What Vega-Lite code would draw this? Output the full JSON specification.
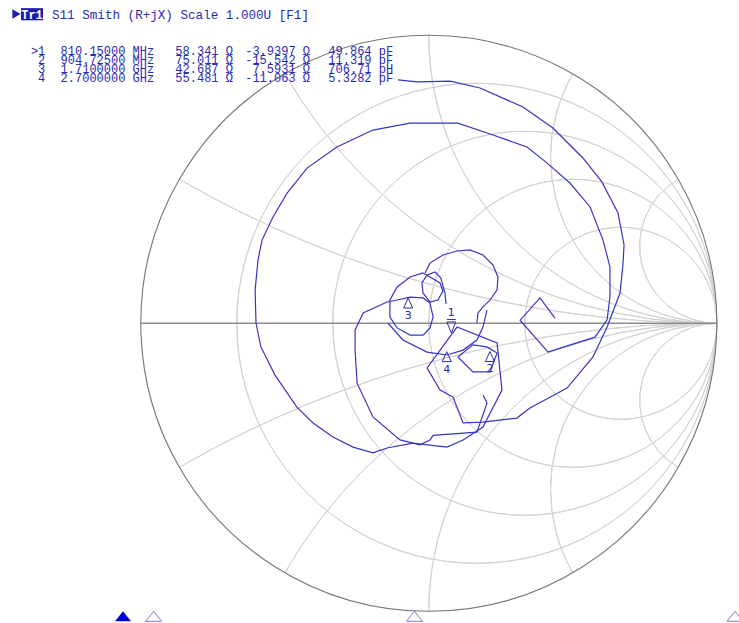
{
  "$schema": "https://vega.github.io/schema/vega-lite/v6.json",
  "width": 739,
  "height": 623,
  "autosize": {"type": "none"},
  "padding": 0,
  "background": "white",
  "config": {"view": {"stroke": null}},
  "datasets": {
    "grid": [
      {"kind": "r", "cx": 0.16667, "cy": 0, "rad": 0.83333, "t1": 0, "t2": 6.28318},
      {"kind": "r", "cx": 0.33333, "cy": 0, "rad": 0.66667, "t1": 0, "t2": 6.28318},
      {"kind": "r", "cx": 0.5, "cy": 0, "rad": 0.5, "t1": 0, "t2": 6.28318},
      {"kind": "r", "cx": 0.66667, "cy": 0, "rad": 0.33333, "t1": 0, "t2": 6.28318},
      {"kind": "r", "cx": 0.83333, "cy": 0, "rad": 0.16667, "t1": 0, "t2": 6.28318},
      {"kind": "x", "cx": 1, "cy": 0.26795, "rad": 0.26795, "t1": 3.14159, "t2": 5.75959},
      {"kind": "x", "cx": 1, "cy": 0.57735, "rad": 0.57735, "t1": 3.14159, "t2": 5.23599},
      {"kind": "x", "cx": 1, "cy": 1, "rad": 1, "t1": 3.14159, "t2": 4.71239},
      {"kind": "x", "cx": 1, "cy": 1.73205, "rad": 1.73205, "t1": 3.14159, "t2": 4.18879},
      {"kind": "x", "cx": 1, "cy": 3.73205, "rad": 3.73205, "t1": 3.14159, "t2": 3.66519},
      {"kind": "x", "cx": 1, "cy": -0.26795, "rad": 0.26795, "t1": -2.61799, "t2": 0},
      {"kind": "x", "cx": 1, "cy": -0.57735, "rad": 0.57735, "t1": -2.0944, "t2": 0},
      {"kind": "x", "cx": 1, "cy": -1, "rad": 1, "t1": -1.5708, "t2": 0},
      {"kind": "x", "cx": 1, "cy": -1.73205, "rad": 1.73205, "t1": -1.0472, "t2": 0},
      {"kind": "x", "cx": 1, "cy": -3.73205, "rad": 3.73205, "t1": -0.5236, "t2": 0},
      {"kind": "outer", "cx": 0, "cy": 0, "rad": 1, "t1": 0, "t2": 6.28318}
    ],
    "trace": [
      {"s": "A", "i": 0, "gx": -0.107, "gy": 0.845},
      {"s": "A", "i": 1, "gx": -0.041, "gy": 0.838},
      {"s": "A", "i": 2, "gx": 0.074, "gy": 0.841},
      {"s": "A", "i": 3, "gx": 0.178, "gy": 0.817},
      {"s": "A", "i": 4, "gx": 0.327, "gy": 0.751},
      {"s": "A", "i": 5, "gx": 0.431, "gy": 0.678},
      {"s": "A", "i": 6, "gx": 0.535, "gy": 0.574},
      {"s": "A", "i": 7, "gx": 0.601, "gy": 0.491},
      {"s": "A", "i": 8, "gx": 0.657, "gy": 0.383},
      {"s": "A", "i": 9, "gx": 0.678, "gy": 0.272},
      {"s": "A", "i": 10, "gx": 0.674, "gy": 0.202},
      {"s": "A", "i": 11, "gx": 0.664, "gy": 0.105},
      {"s": "A", "i": 12, "gx": 0.619, "gy": -0.013},
      {"s": "A", "i": 13, "gx": 0.57, "gy": -0.117},
      {"s": "A", "i": 14, "gx": 0.48, "gy": -0.225},
      {"s": "A", "i": 15, "gx": 0.403, "gy": -0.266},
      {"s": "A", "i": 16, "gx": 0.351, "gy": -0.294},
      {"s": "A", "i": 17, "gx": 0.306, "gy": -0.329},
      {"s": "A", "i": 18, "gx": 0.188, "gy": -0.343},
      {"s": "A", "i": 19, "gx": 0.119, "gy": -0.346},
      {"s": "A", "i": 20, "gx": 0.084, "gy": -0.256},
      {"s": "B", "i": 0, "gx": 0.438, "gy": 0.018},
      {"s": "B", "i": 1, "gx": 0.386, "gy": 0.088},
      {"s": "B", "i": 2, "gx": 0.317, "gy": 0.011},
      {"s": "B", "i": 3, "gx": 0.414, "gy": -0.1},
      {"s": "B", "i": 4, "gx": 0.456, "gy": -0.086},
      {"s": "B", "i": 5, "gx": 0.577, "gy": -0.048},
      {"s": "B", "i": 6, "gx": 0.619, "gy": 0.011},
      {"s": "B", "i": 7, "gx": 0.629, "gy": 0.091},
      {"s": "B", "i": 8, "gx": 0.629, "gy": 0.195},
      {"s": "B", "i": 9, "gx": 0.605, "gy": 0.289},
      {"s": "B", "i": 10, "gx": 0.56, "gy": 0.404},
      {"s": "B", "i": 11, "gx": 0.49, "gy": 0.487},
      {"s": "B", "i": 12, "gx": 0.41, "gy": 0.557},
      {"s": "B", "i": 13, "gx": 0.341, "gy": 0.612},
      {"s": "B", "i": 14, "gx": 0.223, "gy": 0.654},
      {"s": "B", "i": 15, "gx": 0.101, "gy": 0.695},
      {"s": "B", "i": 16, "gx": -0.065, "gy": 0.695},
      {"s": "B", "i": 17, "gx": -0.194, "gy": 0.671},
      {"s": "B", "i": 18, "gx": -0.319, "gy": 0.612},
      {"s": "B", "i": 19, "gx": -0.423, "gy": 0.539},
      {"s": "B", "i": 20, "gx": -0.492, "gy": 0.452},
      {"s": "B", "i": 21, "gx": -0.541, "gy": 0.369},
      {"s": "B", "i": 22, "gx": -0.579, "gy": 0.289},
      {"s": "B", "i": 23, "gx": -0.593, "gy": 0.22},
      {"s": "B", "i": 24, "gx": -0.603, "gy": 0.116},
      {"s": "B", "i": 25, "gx": -0.6, "gy": 0.001},
      {"s": "B", "i": 26, "gx": -0.583, "gy": -0.082},
      {"s": "B", "i": 27, "gx": -0.534, "gy": -0.18},
      {"s": "B", "i": 28, "gx": -0.458, "gy": -0.291},
      {"s": "B", "i": 29, "gx": -0.402, "gy": -0.346},
      {"s": "B", "i": 30, "gx": -0.333, "gy": -0.395},
      {"s": "B", "i": 31, "gx": -0.263, "gy": -0.43},
      {"s": "B", "i": 32, "gx": -0.194, "gy": -0.45},
      {"s": "B", "i": 33, "gx": -0.145, "gy": -0.433},
      {"s": "B", "i": 34, "gx": -0.055, "gy": -0.416},
      {"s": "B", "i": 35, "gx": 0.063, "gy": -0.43},
      {"s": "B", "i": 36, "gx": 0.119, "gy": -0.405},
      {"s": "B", "i": 37, "gx": 0.188, "gy": -0.36},
      {"s": "B", "i": 38, "gx": 0.254, "gy": -0.232},
      {"s": "B", "i": 39, "gx": 0.237, "gy": -0.068},
      {"s": "B", "i": 40, "gx": 0.098, "gy": -0.013},
      {"s": "B", "i": 41, "gx": -0.006, "gy": -0.155},
      {"s": "B", "i": 42, "gx": 0.039, "gy": -0.232},
      {"s": "B", "i": 43, "gx": 0.084, "gy": -0.256},
      {"s": "C1", "i": 0, "gx": -0.013, "gy": 0.175},
      {"s": "C1", "i": 1, "gx": 0.004, "gy": 0.209},
      {"s": "C1", "i": 2, "gx": 0.049, "gy": 0.237},
      {"s": "C1", "i": 3, "gx": 0.098, "gy": 0.251},
      {"s": "C1", "i": 4, "gx": 0.143, "gy": 0.255},
      {"s": "C1", "i": 5, "gx": 0.188, "gy": 0.237},
      {"s": "C1", "i": 6, "gx": 0.223, "gy": 0.202},
      {"s": "C1", "i": 7, "gx": 0.24, "gy": 0.161},
      {"s": "C1", "i": 8, "gx": 0.237, "gy": 0.116},
      {"s": "C1", "i": 9, "gx": 0.213, "gy": 0.081},
      {"s": "C1", "i": 10, "gx": 0.188, "gy": 0.057},
      {"s": "C1", "i": 11, "gx": 0.171, "gy": 0.036},
      {"s": "C1", "i": 12, "gx": 0.167, "gy": 0.001},
      {"s": "C2", "i": 0, "gx": -0.02, "gy": 0.175},
      {"s": "C2", "i": 1, "gx": 0.004, "gy": 0.161},
      {"s": "C2", "i": 2, "gx": 0.039, "gy": 0.14},
      {"s": "C2", "i": 3, "gx": 0.049, "gy": 0.112},
      {"s": "C2", "i": 4, "gx": 0.032, "gy": 0.081},
      {"s": "C2", "i": 5, "gx": 0.004, "gy": 0.074},
      {"s": "C2", "i": 6, "gx": -0.02, "gy": 0.105},
      {"s": "C2", "i": 7, "gx": -0.024, "gy": 0.14},
      {"s": "C2", "i": 8, "gx": -0.006, "gy": 0.168},
      {"s": "C2", "i": 9, "gx": 0.022, "gy": 0.178},
      {"s": "C2", "i": 10, "gx": 0.042, "gy": 0.157},
      {"s": "C2", "i": 11, "gx": 0.056, "gy": 0.105},
      {"s": "C2", "i": 12, "gx": 0.06, "gy": 0.067},
      {"s": "C4", "i": 0, "gx": -0.02, "gy": 0.175},
      {"s": "C4", "i": 1, "gx": -0.065, "gy": 0.161},
      {"s": "C4", "i": 2, "gx": -0.11, "gy": 0.126},
      {"s": "C4", "i": 3, "gx": -0.135, "gy": 0.081},
      {"s": "C4", "i": 4, "gx": -0.135, "gy": 0.022},
      {"s": "C4", "i": 5, "gx": -0.11, "gy": -0.016},
      {"s": "C4", "i": 6, "gx": -0.065, "gy": -0.041},
      {"s": "C4", "i": 7, "gx": -0.02, "gy": -0.041},
      {"s": "C4", "i": 8, "gx": 0.004, "gy": -0.016},
      {"s": "C4", "i": 9, "gx": 0.015, "gy": 0.022},
      {"s": "C4", "i": 10, "gx": 0.004, "gy": 0.07},
      {"s": "C4", "i": 11, "gx": -0.02, "gy": 0.088},
      {"s": "C4", "i": 12, "gx": -0.065, "gy": 0.091},
      {"s": "C4", "i": 13, "gx": -0.11, "gy": 0.081},
      {"s": "C4", "i": 14, "gx": -0.145, "gy": 0.074},
      {"s": "C4", "i": 15, "gx": -0.228, "gy": 0.036},
      {"s": "C4", "i": 16, "gx": -0.256, "gy": -0.023},
      {"s": "C4", "i": 17, "gx": -0.256, "gy": -0.093},
      {"s": "C4", "i": 18, "gx": -0.249, "gy": -0.208},
      {"s": "C4", "i": 19, "gx": -0.194, "gy": -0.325},
      {"s": "C4", "i": 20, "gx": -0.1, "gy": -0.405},
      {"s": "C4", "i": 21, "gx": -0.031, "gy": -0.422},
      {"s": "C4", "i": 22, "gx": 0.004, "gy": -0.405},
      {"s": "C4", "i": 23, "gx": 0.015, "gy": -0.389},
      {"s": "C4", "i": 24, "gx": 0.167, "gy": -0.378},
      {"s": "C4", "i": 25, "gx": 0.202, "gy": -0.277},
      {"s": "C4", "i": 26, "gx": 0.188, "gy": -0.249},
      {"s": "C6", "i": 0, "gx": -0.142, "gy": 0.001},
      {"s": "C6", "i": 1, "gx": -0.09, "gy": -0.058},
      {"s": "C6", "i": 2, "gx": -0.006, "gy": -0.1},
      {"s": "C6", "i": 3, "gx": 0.063, "gy": -0.11},
      {"s": "C6", "i": 4, "gx": 0.119, "gy": -0.093},
      {"s": "C6", "i": 5, "gx": 0.167, "gy": -0.058},
      {"s": "C6", "i": 6, "gx": 0.188, "gy": -0.013},
      {"s": "C6", "i": 7, "gx": 0.202, "gy": 0.046},
      {"s": "H", "i": 0, "gx": 0.101, "gy": -0.117},
      {"s": "H", "i": 1, "gx": 0.153, "gy": -0.075},
      {"s": "H", "i": 2, "gx": 0.202, "gy": -0.082},
      {"s": "H", "i": 3, "gx": 0.237, "gy": -0.103},
      {"s": "H", "i": 4, "gx": 0.213, "gy": -0.169},
      {"s": "H", "i": 5, "gx": 0.153, "gy": -0.169},
      {"s": "H", "i": 6, "gx": 0.101, "gy": -0.117}
    ],
    "markers": [
      {"m": 1, "label": "1", "dir": "down", "gx": 0.0782, "gy": -0.0335, "freq": 810.15},
      {"m": 2, "label": "2", "dir": "up", "gx": 0.2122, "gy": -0.0979, "freq": 904.725},
      {"m": 3, "label": "3", "dir": "up", "gx": -0.0717, "gy": 0.0878, "freq": 1710},
      {"m": 4, "label": "4", "dir": "up", "gx": 0.0623, "gy": -0.0984, "freq": 2700}
    ],
    "table": [
      {
        "line": 6,
        "lab": [">1", "2", "3", "4"],
        "freq": ["810.15000\u00a0MHz", "904.72500\u00a0MHz", "1.7100000\u00a0GHz", "2.7000000\u00a0GHz"],
        "res": ["58.341\u00a0Ω", "75.011\u00a0Ω", "42.687\u00a0Ω", "55.481\u00a0Ω"],
        "rea": ["-3.9397\u00a0Ω", "-15.542\u00a0Ω", "7.5931\u00a0Ω", "-11.063\u00a0Ω"],
        "lc": ["49.864\u00a0pF", "11.319\u00a0pF", "706.71\u00a0pH", "5.3282\u00a0pF"]
      }
    ]
  },
  "layer": [
    {
      "layer": [
        {
          "data": {"name": "grid"},
          "transform": [{"filter": "datum.kind != 'outer'"}],
          "mark": {"type": "arc", "stroke": "#d2d2d2", "strokeWidth": 1, "fillOpacity": 0, "fill": "white"},
          "encoding": {
            "x": {"field": "cx", "type": "quantitative", "scale": {"domain": [-1.48889, 1.07708], "nice": false, "zero": false}, "axis": null},
            "y": {"field": "cy", "type": "quantitative", "scale": {"domain": [-1.04062, 1.12257], "nice": false, "zero": false}, "axis": null},
            "radius": {"field": "rad", "type": "quantitative", "scale": {"type": "linear", "domain": [0, 1], "range": [0, 288], "zero": true, "nice": false}},
            "radius2": {"field": "rad"},
            "theta": {"field": "t1", "type": "quantitative", "scale": null, "stack": null},
            "theta2": {"field": "t2"}
          }
        },
        {
          "data": {"name": "grid"},
          "transform": [{"filter": "datum.kind == 'outer'"}],
          "mark": {"type": "arc", "stroke": "#767676", "strokeWidth": 1.1, "fillOpacity": 0, "fill": "white"},
          "encoding": {
            "x": {"field": "cx", "type": "quantitative", "scale": {"domain": [-1.48889, 1.07708], "nice": false, "zero": false}, "axis": null},
            "y": {"field": "cy", "type": "quantitative", "scale": {"domain": [-1.04062, 1.12257], "nice": false, "zero": false}, "axis": null},
            "radius": {"field": "rad", "type": "quantitative", "scale": {"type": "linear", "domain": [0, 1], "range": [0, 288], "zero": true, "nice": false}},
            "radius2": {"field": "rad"},
            "theta": {"field": "t1", "type": "quantitative", "scale": null, "stack": null},
            "theta2": {"field": "t2"}
          }
        },
        {
          "data": {"values": [{"a": -1, "b": 1, "c": 0}]},
          "mark": {"type": "rule", "color": "#8c8c8c", "strokeWidth": 1.6},
          "encoding": {
            "x": {"field": "a", "type": "quantitative", "scale": {"domain": [-1.48889, 1.07708], "nice": false, "zero": false}, "axis": null},
            "x2": {"field": "b"},
            "y": {"field": "c", "type": "quantitative", "scale": {"domain": [-1.04062, 1.12257], "nice": false, "zero": false}, "axis": null}
          }
        },
        {
          "data": {"name": "trace"},
          "mark": {"type": "line", "color": "#3636c2", "strokeWidth": 1.2},
          "encoding": {
            "x": {"field": "gx", "type": "quantitative", "scale": {"domain": [-1.48889, 1.07708], "nice": false, "zero": false}, "axis": null},
            "y": {"field": "gy", "type": "quantitative", "scale": {"domain": [-1.04062, 1.12257], "nice": false, "zero": false}, "axis": null},
            "detail": {"field": "s"},
            "order": {"field": "i", "type": "quantitative"}
          }
        },
        {
          "data": {"name": "markers"},
          "mark": {"type": "point", "filled": false, "stroke": "#2a2ab4", "strokeWidth": 1, "size": 100, "opacity": 1},
          "encoding": {
            "x": {"field": "gx", "type": "quantitative", "scale": {"domain": [-1.48889, 1.07708], "nice": false, "zero": false}, "axis": null},
            "y": {"field": "gy", "type": "quantitative", "scale": {"domain": [-1.04062, 1.12257], "nice": false, "zero": false}, "axis": null},
            "shape": {"field": "dir", "type": "nominal", "scale": {"domain": ["up", "down"], "range": ["M0,0L-0.9,2L0.9,2Z", "M0,0L-0.9,-2.2L0.9,-2.2ZM-0.9,-2.7L0.9,-2.7"]}, "legend": null}
          }
        },
        {
          "data": {"name": "markers"},
          "transform": [{"filter": "datum.dir == 'up'"}],
          "mark": {"type": "text", "font": "DejaVu Sans", "fontSize": 11, "color": "#2a2ab4", "align": "center", "baseline": "alphabetic", "dy": 21},
          "encoding": {
            "x": {"field": "gx", "type": "quantitative", "scale": {"domain": [-1.48889, 1.07708], "nice": false, "zero": false}, "axis": null},
            "y": {"field": "gy", "type": "quantitative", "scale": {"domain": [-1.04062, 1.12257], "nice": false, "zero": false}, "axis": null},
            "text": {"field": "label"}
          }
        },
        {
          "data": {"name": "markers"},
          "transform": [{"filter": "datum.dir == 'down'"}],
          "mark": {"type": "text", "font": "DejaVu Sans", "fontSize": 11, "color": "#2a2ab4", "align": "center", "baseline": "alphabetic", "dy": -17},
          "encoding": {
            "x": {"field": "gx", "type": "quantitative", "scale": {"domain": [-1.48889, 1.07708], "nice": false, "zero": false}, "axis": null},
            "y": {"field": "gy", "type": "quantitative", "scale": {"domain": [-1.04062, 1.12257], "nice": false, "zero": false}, "axis": null},
            "text": {"field": "label"}
          }
        }
      ]
    },
    {
      "layer": [
        {
          "data": {"values": [{"c1": -1.176, "c2": 1.699, "l1": 0.85, "l2": 2.2}]},
          "mark": {"type": "rect", "color": "#1c1caa"},
          "encoding": {
            "x": {"field": "c1", "type": "quantitative", "scale": {"domain": [-3.9216, 92.68], "nice": false, "zero": false}, "axis": null},
            "x2": {"field": "c2"},
            "y": {"field": "l1", "type": "quantitative", "scale": {"domain": [-0.0556, 69.167], "reverse": true, "nice": false, "zero": false}, "axis": null},
            "y2": {"field": "l2"}
          }
        },
        {
          "data": {"values": [{"c": -1.765, "l": 1.5}]},
          "mark": {"type": "point", "shape": "triangle-right", "filled": true, "color": "#2020b0", "size": 90, "opacity": 1},
          "encoding": {
            "x": {"field": "c", "type": "quantitative", "scale": {"domain": [-3.9216, 92.68], "nice": false, "zero": false}, "axis": null},
            "y": {"field": "l", "type": "quantitative", "scale": {"domain": [-0.0556, 69.167], "reverse": true, "nice": false, "zero": false}, "axis": null}
          }
        },
        {
          "data": {"values": [{"c": 0.261, "l": 2, "t": "Tr1"}]},
          "mark": {"type": "text", "font": "Liberation Mono", "fontSize": 12, "fontWeight": "bold", "color": "white", "align": "center", "baseline": "alphabetic"},
          "encoding": {
            "x": {"field": "c", "type": "quantitative", "scale": {"domain": [-3.9216, 92.68], "nice": false, "zero": false}, "axis": null},
            "y": {"field": "l", "type": "quantitative", "scale": {"domain": [-0.0556, 69.167], "reverse": true, "nice": false, "zero": false}, "axis": null},
            "text": {"field": "t"}
          }
        },
        {
          "data": {"values": [{"c": 2.876, "l": 2, "t": "S11\u00a0Smith\u00a0(R+jX)\u00a0Scale\u00a01.000U\u00a0[F1]"}]},
          "mark": {"type": "text", "font": "Liberation Mono", "fontSize": 12.6, "color": "#2a2ab4", "align": "left", "baseline": "alphabetic"},
          "encoding": {
            "x": {"field": "c", "type": "quantitative", "scale": {"domain": [-3.9216, 92.68], "nice": false, "zero": false}, "axis": null},
            "y": {"field": "l", "type": "quantitative", "scale": {"domain": [-0.0556, 69.167], "reverse": true, "nice": false, "zero": false}, "axis": null},
            "text": {"field": "t"}
          }
        },
        {
          "data": {"name": "table"},
          "mark": {"type": "text", "font": "Liberation Mono", "fontSize": 12, "lineHeight": 9, "color": "#2a2ab4", "align": "right", "baseline": "alphabetic"},
          "encoding": {
            "x": {"datum": 2, "type": "quantitative", "scale": {"domain": [-3.9216, 92.68], "nice": false, "zero": false}, "axis": null},
            "y": {"field": "line", "type": "quantitative", "scale": {"domain": [-0.0556, 69.167], "reverse": true, "nice": false, "zero": false}, "axis": null},
            "text": {"field": "lab"}
          }
        },
        {
          "data": {"name": "table"},
          "mark": {"type": "text", "font": "Liberation Mono", "fontSize": 12, "lineHeight": 9, "color": "#2a2ab4", "align": "left", "baseline": "alphabetic"},
          "encoding": {
            "x": {"datum": 4, "type": "quantitative", "scale": {"domain": [-3.9216, 92.68], "nice": false, "zero": false}, "axis": null},
            "y": {"field": "line", "type": "quantitative", "scale": {"domain": [-0.0556, 69.167], "reverse": true, "nice": false, "zero": false}, "axis": null},
            "text": {"field": "freq"}
          }
        },
        {
          "data": {"name": "table"},
          "mark": {"type": "text", "font": "Liberation Mono", "fontSize": 12, "lineHeight": 9, "color": "#2a2ab4", "align": "left", "baseline": "alphabetic"},
          "encoding": {
            "x": {"datum": 19, "type": "quantitative", "scale": {"domain": [-3.9216, 92.68], "nice": false, "zero": false}, "axis": null},
            "y": {"field": "line", "type": "quantitative", "scale": {"domain": [-0.0556, 69.167], "reverse": true, "nice": false, "zero": false}, "axis": null},
            "text": {"field": "res"}
          }
        },
        {
          "data": {"name": "table"},
          "mark": {"type": "text", "font": "Liberation Mono", "fontSize": 12, "lineHeight": 9, "color": "#2a2ab4", "align": "right", "baseline": "alphabetic"},
          "encoding": {
            "x": {"datum": 36.6, "type": "quantitative", "scale": {"domain": [-3.9216, 92.68], "nice": false, "zero": false}, "axis": null},
            "y": {"field": "line", "type": "quantitative", "scale": {"domain": [-0.0556, 69.167], "reverse": true, "nice": false, "zero": false}, "axis": null},
            "text": {"field": "rea"}
          }
        },
        {
          "data": {"name": "table"},
          "mark": {"type": "text", "font": "Liberation Mono", "fontSize": 12, "lineHeight": 9, "color": "#2a2ab4", "align": "left", "baseline": "alphabetic"},
          "encoding": {
            "x": {"datum": 39, "type": "quantitative", "scale": {"domain": [-3.9216, 92.68], "nice": false, "zero": false}, "axis": null},
            "y": {"field": "line", "type": "quantitative", "scale": {"domain": [-0.0556, 69.167], "reverse": true, "nice": false, "zero": false}, "axis": null},
            "text": {"field": "lc"}
          }
        }
      ]
    },
    {
      "layer": [
        {
          "data": {"name": "markers"},
          "transform": [{"filter": "datum.m == 1"}],
          "mark": {"type": "point", "filled": true, "color": "#0000d8", "size": 100, "opacity": 1, "shape": "M0,0L-1.6,2L1.6,2Z"},
          "encoding": {
            "x": {"field": "freq", "type": "quantitative", "scale": {"domain": [430.3, 2712.3], "nice": false, "zero": false}, "axis": null},
            "y": {"datum": -1, "type": "quantitative", "scale": {"domain": [-1.04062, 1.12257], "nice": false, "zero": false}, "axis": null}
          }
        },
        {
          "data": {"name": "markers"},
          "transform": [{"filter": "datum.m != 1"}],
          "mark": {"type": "point", "filled": false, "stroke": "#7a7acc", "strokeWidth": 1, "size": 100, "opacity": 1, "shape": "M0,0L-1.6,2L1.6,2Z"},
          "encoding": {
            "x": {"field": "freq", "type": "quantitative", "scale": {"domain": [430.3, 2712.3], "nice": false, "zero": false}, "axis": null},
            "y": {"datum": -1, "type": "quantitative", "scale": {"domain": [-1.04062, 1.12257], "nice": false, "zero": false}, "axis": null}
          }
        }
      ]
    }
  ],
  "resolve": {"scale": {"x": "independent", "y": "independent", "shape": "independent"}}
}
